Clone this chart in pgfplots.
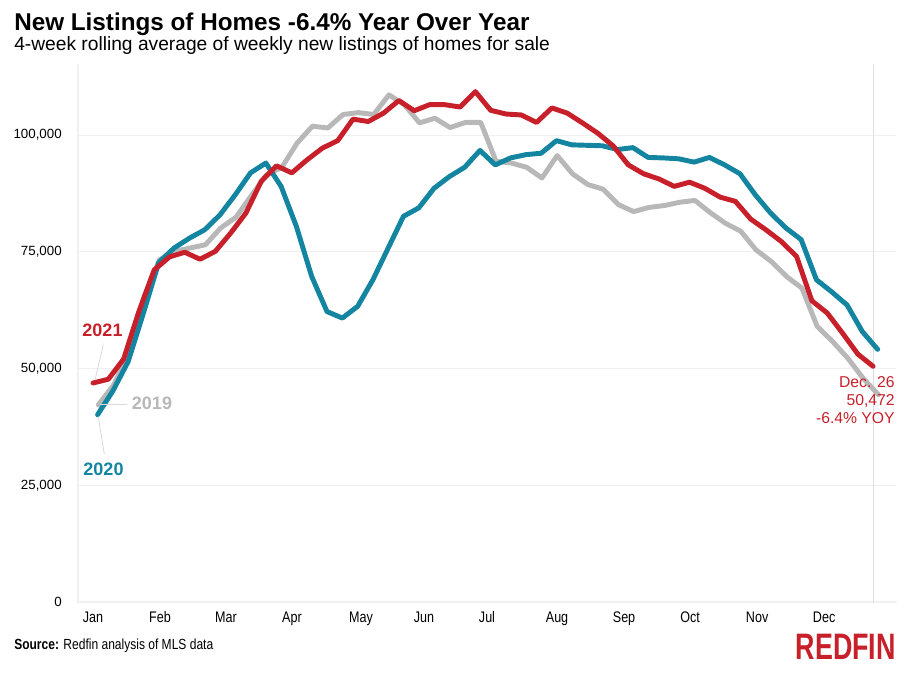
\documentclass[border=0pt]{standalone}
\usepackage{fontspec}
\setmainfont{Liberation Sans}
\newfontfamily\cond[FakeStretch=0.82]{Liberation Sans}
\usepackage{pgfplots}
\pgfplotsset{compat=1.18}
\definecolor{rfred}{HTML}{C8202B}
\definecolor{rfblue}{HTML}{1385A0}
\definecolor{rfgray}{HTML}{B8B8B8}
\definecolor{gridc}{HTML}{F0F0F0}
\begin{document}
\begin{tikzpicture}[x=0.75pt,y=0.75pt]
\useasboundingbox (0,0) rectangle (914,675);
\begin{axis}[
  at={(58.5pt,54.75pt)}, anchor=south west,
  width=613.5pt, height=402.75pt, scale only axis,
  xmin=-0.98, xmax=52.5, ymin=0, ymax=115000,
  axis lines*=left,
  axis line style={draw=gridc, line width=0.8pt},
  scaled y ticks=false,
  ytick={0,25000,50000,75000,100000},
  yticklabels={0,{25,000},{50,000},{75,000},{100,000}},
  ymajorgrids, grid style={draw=gridc, line width=0.8pt},
  major tick length=0pt,
  xtick={0,4.38,8.70,13.01,17.52,21.64,25.76,30.34,34.72,39.04,43.42,47.80},
  xticklabels={Jan,Feb,Mar,Apr,May,Jun,Jul,Aug,Sep,Oct,Nov,Dec},
  xticklabel style={font=\cond\fontsize{11.5pt}{13pt}\selectfont, anchor=north, inner sep=0pt, yshift=-7pt},
  yticklabel style={font=\fontsize{10pt}{12pt}\selectfont, anchor=east, inner sep=0pt, xshift=-12pt},
  /pgf/number format/assume math mode=true,
  clip=false,
  line join=round, line cap=round,
]
\draw[draw=black!13, line width=0.8pt] (axis cs:51,0) -- (axis cs:51,115000);
% 2019
\addplot[rfgray, line width=3.7pt, mark=none] coordinates {
(0.35,42200)(1.35,46500)(2.35,53300)(3.35,65500)(4.35,73300)(5.35,75100)(6.35,75800)(7.35,76500)(8.35,80100)(9.35,82400)
(10.35,87000)(11.35,91500)(12.35,93100)(13.35,98300)(14.35,101900)(15.35,101500)(16.35,104400)(17.35,104800)(18.35,104400)(19.35,108600)
(20.35,106500)(21.35,102600)(22.35,103600)(23.35,101600)(24.35,102700)(25.35,102700)(26.35,94400)(27.35,94000)(28.35,93100)(29.35,90800)
(30.35,95600)(31.35,91700)(32.35,89400)(33.35,88400)(34.35,85100)(35.35,83600)(36.35,84500)(37.35,84900)(38.35,85600)(39.35,86000)
(40.35,83400)(41.35,81100)(42.35,79400)(43.35,75400)(44.35,72900)(45.35,69700)(46.35,67200)(47.35,59000)(48.35,55800)(49.35,52200)
(50.35,47900)(51.35,44400)};
% 2020
\addplot[rfblue, line width=3.7pt, mark=none] coordinates {
(0.3,40100)(1.3,45200)(2.3,51500)(3.3,61900)(4.3,72700)(5.3,75800)(6.3,77900)(7.3,79700)(8.3,82900)(9.3,87200)
(10.3,91900)(11.3,94000)(12.3,89000)(13.3,80400)(14.3,69700)(15.3,62200)(16.3,60800)(17.3,63300)(18.3,69000)(19.3,75800)
(20.3,82600)(21.3,84400)(22.3,88600)(23.3,91100)(24.3,93100)(25.3,96700)(26.3,93600)(27.3,95100)(28.3,95800)(29.3,96100)
(30.3,98800)(31.3,97900)(32.3,97800)(33.3,97700)(34.3,96900)(35.3,97300)(36.3,95200)(37.3,95100)(38.3,94900)(39.3,94200)
(40.3,95200)(41.3,93600)(42.3,91700)(43.3,87200)(44.3,83300)(45.3,80100)(46.3,77600)(47.3,69000)(48.3,66400)(49.3,63600)
(50.3,57900)(51.3,54100)};
% 2021
\addplot[rfred, line width=3.7pt, mark=none] coordinates {
(0,46900)(1,47700)(2,52000)(3,62200)(4,71100)(5,73900)(6,74900)(7,73400)(8,75100)(9,79000)
(10,83300)(11,90100)(12,93400)(13,91900)(14,94700)(15,97200)(16,98800)(17,103400)(18,102900)(19,104700)
(20,107400)(21,105200)(22,106500)(23,106500)(24,106000)(25,109300)(26,105300)(27,104500)(28,104300)(29,102700)
(30,105800)(31,104700)(32,102600)(33,100400)(34,97700)(35,93600)(36,91700)(37,90600)(38,89000)(39,89900)
(40,88600)(41,86700)(42,85800)(43,82000)(44,79700)(45,77200)(46,74000)(47,64500)(48,61900)(49,57600)
(50,53100)(51,50472)};
\end{axis}
% titles
\node[anchor=base west, inner sep=0pt, font=\bfseries\fontsize{18.2pt}{20pt}\selectfont] at (14,644) {New Listings of Homes -6.4\% Year Over Year};
\node[anchor=base west, inner sep=0pt, font=\fontsize{14.4pt}{16pt}\selectfont] at (14,624) {4-week rolling average of weekly new listings of homes for sale};
% series labels
\draw[black!15, line width=0.6pt] (103.3,330) -- (95,295);
\draw[black!15, line width=0.6pt] (100,270.7) -- (126.7,270.7);
\draw[black!15, line width=0.6pt] (98.3,258.3) -- (104.3,221);
\node[font=\fontsize{13.5pt}{15pt}\selectfont\bfseries, text=rfred, inner sep=0pt] at (102.5,345) {2021};
\node[font=\fontsize{13.5pt}{15pt}\selectfont\bfseries, text=rfgray, inner sep=0pt] at (152,272) {2019};
\node[font=\fontsize{13.5pt}{15pt}\selectfont\bfseries, text=rfblue, inner sep=0pt] at (103.5,206) {2020};
% end label
\node[anchor=east, align=right, inner sep=0pt, text=rfred, font=\fontsize{11.8pt}{13.5pt}\selectfont] at (895,275) {Dec. 26\\50,472\\-6.4\% YOY};
% source
\node[anchor=base west, inner sep=0pt, font=\cond\fontsize{11pt}{12pt}\selectfont] at (14,26) {\textbf{Source:} Redfin analysis of MLS data};
\node[anchor=base east, inner sep=0pt, text=rfred] at (896,16) {\resizebox{75pt}{19pt}{\cond\bfseries REDFIN}};
\end{tikzpicture}
\end{document}
